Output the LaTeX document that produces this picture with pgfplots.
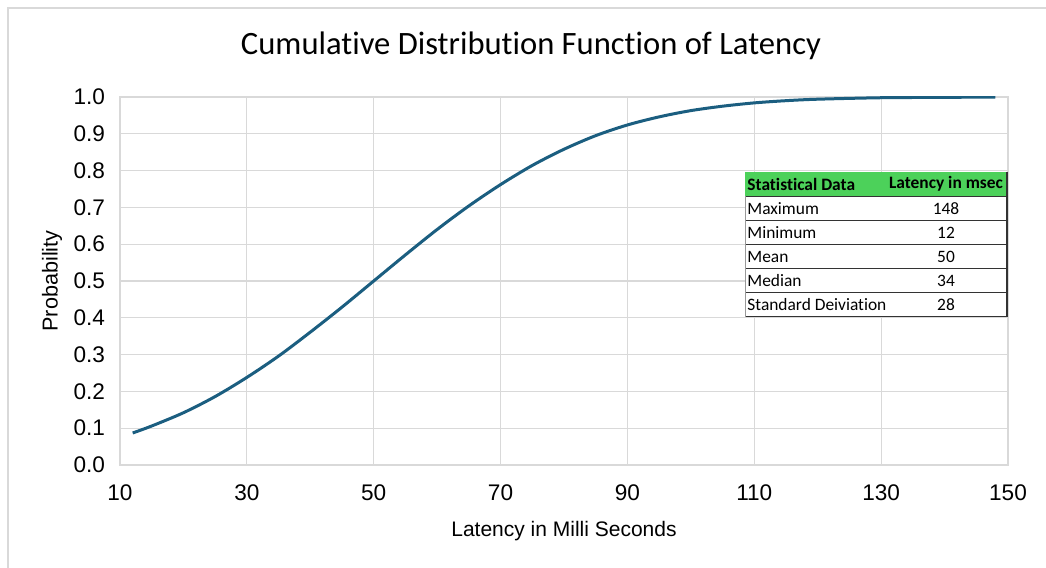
\documentclass[border=0pt]{standalone}
\usepackage{fontspec}
\setmainfont{Liberation Sans}
\newfontfamily\carlito[Ligatures=NoCommon]{Carlito}
\usepackage{pgfplots}
\pgfplotsset{compat=1.18}
\definecolor{curve}{HTML}{1B5E80}
\definecolor{gridc}{HTML}{D9D9D9}
\definecolor{hdr}{HTML}{4CD15A}
\begin{document}
\begin{tikzpicture}
\useasboundingbox (-60pt,-51.5pt) rectangle (463pt,232.5pt);
\draw[gridc,line width=0.8pt] (-56pt,-51.5pt) -- (-56pt,228.5pt) -- (463pt,228.5pt);
\node[font=\carlito\fontsize{16.3}{19}\selectfont] at (205.5pt,209.5pt) {Cumulative Distribution Function of Latency};
\begin{axis}[at={(0,0)},anchor=south west, scale only axis, width=444pt, height=184pt,
  xmin=10,xmax=150,ymin=0,ymax=1,
  xtick={10,30,50,70,90,110,130,150},
  ytick={0,0.1,0.2,0.3,0.4,0.5,0.6,0.7,0.8,0.9,1.0},
  grid=major, major grid style={gridc,line width=0.6pt},
  axis line style={gridc,line width=0.6pt},
  tick style={draw=none},
  ticklabel style={font=\fontsize{11.3}{13}\selectfont},
  xticklabel style={yshift=-6.5pt},
  yticklabel style={xshift=-4pt,/pgf/number format/.cd,fixed,fixed zerofill,precision=1},
  /pgf/number format/assume math mode=true,
  xlabel={Latency in Milli Seconds},
  ylabel={Probability},
  every axis x label/.style={at={(axis description cs:0.5,-0.18)},anchor=center,font=\fontsize{10.5}{13}\selectfont},
  every axis y label/.style={at={(axis description cs:-0.0766,0.5)},anchor=center,rotate=90,font=\fontsize{10.8}{13}\selectfont},
]
\addplot[curve, line width=1.5pt, smooth] coordinates {
(12,0.087) (15,0.106) (20,0.142) (25,0.186) (30,0.238) (35,0.296) (40,0.361)
(45,0.429) (50,0.500) (55,0.571) (60,0.640) (65,0.704) (70,0.762) (75,0.814)
(80,0.858) (85,0.895) (90,0.924) (95,0.946) (100,0.963) (105,0.975) (110,0.984)
(115,0.990) (120,0.994) (130,0.998) (140,0.999) (148,1.000)
};
\end{axis}
% statistics table
\def\tl{312.5}\def\tr{443.5}\def\tt{146.5}\def\rh{12.08}
\fill[white] (\tl pt,74pt) rectangle (\tr pt,\tt pt);
\fill[hdr] (\tl pt,\tt pt-\rh pt) rectangle (\tr pt,\tt pt);
\foreach \i in {1,...,6} {
  \draw[black!80,line width=0.5pt] (\tl pt,\tt pt-\i*\rh pt) -- (\tr pt,\tt pt-\i*\rh pt);
}
\draw[black!80,line width=0.6pt] (\tr pt,\tt pt) -- (\tr pt,\tt pt-6*\rh pt);
\draw[black!40,line width=0.4pt] (\tl pt,\tt pt-\rh pt) -- (\tl pt,\tt pt-6*\rh pt);
\begin{scope}[every node/.style={font=\carlito\fontsize{8.7}{10}\selectfont,inner sep=0pt}]
\node[anchor=west,font=\carlito\bfseries\fontsize{8.7}{10}\selectfont] at (\tl pt+1pt,\tt pt-0.5*\rh pt) {Statistical Data};
\node[font=\carlito\bfseries\fontsize{8.7}{10}\selectfont] at (413pt,\tt pt-0.5*\rh pt) {Latency in msec};
\node[anchor=west] at (\tl pt+1pt,\tt pt-1.5*\rh pt) {Maximum};
\node[anchor=west] at (\tl pt+1pt,\tt pt-2.5*\rh pt) {Minimum};
\node[anchor=west] at (\tl pt+1pt,\tt pt-3.5*\rh pt) {Mean};
\node[anchor=west] at (\tl pt+1pt,\tt pt-4.5*\rh pt) {Median};
\node[anchor=west] at (\tl pt+1pt,\tt pt-5.5*\rh pt) {Standard Deiviation};
\node at (413pt,\tt pt-1.5*\rh pt) {148};
\node at (413pt,\tt pt-2.5*\rh pt) {12};
\node at (413pt,\tt pt-3.5*\rh pt) {50};
\node at (413pt,\tt pt-4.5*\rh pt) {34};
\node at (413pt,\tt pt-5.5*\rh pt) {28};
\end{scope}
\end{tikzpicture}
\end{document}
